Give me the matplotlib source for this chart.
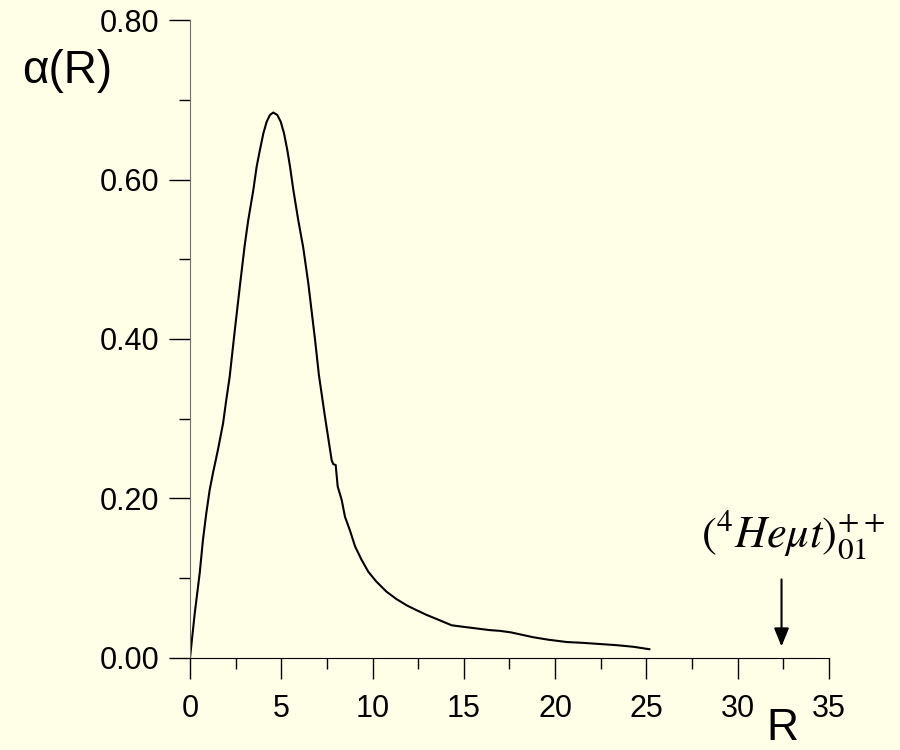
import matplotlib
matplotlib.use("Agg")
import matplotlib.pyplot as plt
from matplotlib.ticker import MultipleLocator

### Data ###

r_vals = [0.0, 0.26, 0.53, 0.71, 0.89, 1.08, 1.26, 1.53, 1.81, 1.99, 2.17,
          2.46, 2.74, 3.00, 3.19, 3.47, 3.65, 3.83, 4.02, 4.20, 4.38, 4.56,
          4.78, 4.97, 5.15, 5.33, 5.48, 5.66, 5.93, 6.20, 6.48, 6.85,
          7.06, 7.39, 7.76, 7.85, 7.98, 8.09, 8.31, 8.49, 8.76, 9.04, 9.40,
          9.77, 10.20, 10.77, 11.30, 11.87, 12.40, 12.96, 13.60, 14.33,
          15.00, 15.70, 16.40, 16.98, 17.60, 18.20, 18.80, 19.60, 20.63,
          21.50, 22.45, 23.40, 24.30, 25.16]
alpha_vals = [0.0, 0.056, 0.106, 0.148, 0.181, 0.211, 0.232, 0.261, 0.294, 0.324,
              0.352, 0.412, 0.468, 0.518, 0.549, 0.587, 0.616, 0.637, 0.658,
              0.6725, 0.681, 0.684, 0.681, 0.6725, 0.658, 0.637, 0.616, 0.587,
              0.549, 0.515, 0.470, 0.399, 0.355, 0.303, 0.248, 0.243, 0.242,
              0.215, 0.198, 0.177, 0.160, 0.140, 0.123, 0.108, 0.096, 0.083,
              0.074, 0.066, 0.060, 0.054, 0.048, 0.041, 0.039, 0.037, 0.035,
              0.034, 0.032, 0.029, 0.026, 0.023, 0.020, 0.019, 0.0175, 0.016,
              0.014, 0.011]

x_ticks = [0, 5, 10, 15, 20, 25, 30, 35]
y_ticks = [0.0, 0.2, 0.4, 0.6, 0.8]
y_ticklabels = ["0.00", "0.20", "0.40", "0.60", "0.80"]

state_label = r"$(^{4}He\mu t)^{++}_{01}$"
state_r = 32.4

### Plot ###

bg = "#FFFFE8"
plt.rcParams["font.family"] = ["Liberation Sans", "DejaVu Sans"]
plt.rcParams["mathtext.fontset"] = "stix"

fig = plt.figure(figsize=(9, 7.5), dpi=100, facecolor=bg)
ax = fig.add_axes([0.2111, 0.1227, 0.71, 0.8506], facecolor=bg)

ax.plot(r_vals, alpha_vals, color="black", lw=1.5, solid_joinstyle="round")

ax.set_xlim(0, 35)
ax.set_ylim(0, 0.8)
ax.set_xticks(x_ticks)
ax.set_xticklabels([str(t) for t in x_ticks])
ax.set_yticks(y_ticks)
ax.set_yticklabels(y_ticklabels)
ax.xaxis.set_minor_locator(MultipleLocator(2.5))
ax.yaxis.set_minor_locator(MultipleLocator(0.1))

ax.tick_params(which="major", length=15, width=1, direction="out", labelsize=22, color="black")
ax.tick_params(which="minor", length=8, width=1, direction="out", color="black")
ax.tick_params(axis="x", which="major", pad=11)
ax.tick_params(axis="y", which="major", pad=7)

for s in ["top", "right"]:
    ax.spines[s].set_visible(False)
ax.spines["left"].set_color("#707070")
ax.spines["bottom"].set_color("black")

# axis labels placed like the original
fig.text(0.025, 0.935, "\u03b1(R)", fontsize=33, ha="left", va="top")
fig.text(0.869, 0.001, "R", fontsize=32, ha="center", va="bottom")

# arrow marking the state
ax.annotate("", xy=(state_r, 0.011), xytext=(state_r, 0.102),
            arrowprops=dict(arrowstyle="-|>,head_length=1.1,head_width=0.45",
                            color="black", lw=1.5))
ax.text(33.0, 0.122, state_label, fontsize=32, ha="center", va="bottom",
        clip_on=False)

fig.savefig("out.png", dpi=100, facecolor=bg)
